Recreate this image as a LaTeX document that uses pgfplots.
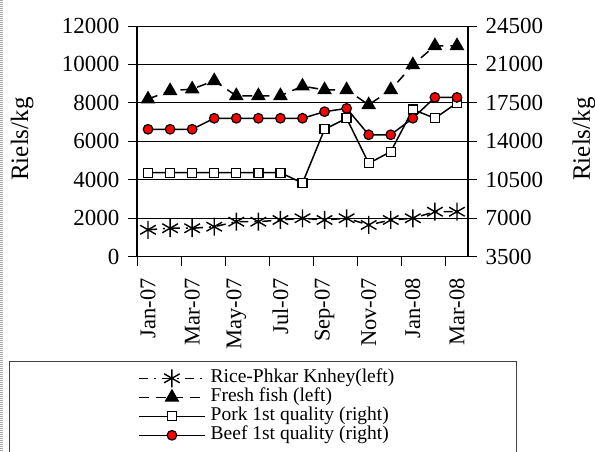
\documentclass[border=0pt]{standalone}
\usepackage{pgfplots}
\pgfplotsset{compat=1.18}
\usepackage{fontspec}
\setmainfont{Liberation Serif}
\pgfplotstableread{
m rice fish pork beef
0 1400 8200 11150 15100
1 1480 8630 11150 15100
2 1480 8720 11150 15100
3 1560 9150 11150 16100
4 1820 8370 11150 16100
5 1820 8370 11150 16100
6 1910 8370 11150 16100
7 2000 8870 10200 16100
8 1910 8680 15100 16700
9 2000 8680 16100 17000
10 1650 7900 12000 14600
11 1910 8680 13060 14600
12 2000 9980 16900 16100
13 2340 10970 16100 18000
14 2340 10970 17500 18000
}\data
\begin{document}
\begin{tikzpicture}[x=1pt,y=1pt]
\useasboundingbox (0,0) rectangle (595,451);
\draw[gray!70, line width=2.5pt, dash pattern=on 1pt off 1pt] (1.3,0) -- (1.3,451);
\draw[black!75, line width=1pt] (9,-2) -- (9,90) -- (516,90) -- (516,-2);
\pgfplotsset{
  common/.style={
    at={(137pt,194.3pt)}, anchor=south west,
    scale only axis, width=331pt, height=230.7pt,
    xmin=-0.5, xmax=14.5,
    tick align=outside, major tick length=9pt,
    /pgf/number format/assume math mode=true,
    ticklabel style={font=\fontsize{23}{27}\selectfont},
    xticklabel style={font=\fontsize{22.5}{27}\selectfont},
    label style={font=\fontsize{25}{29}\selectfont},
    tick style={black, line width=1pt},
    axis line style={line width=1.4pt},
    scaled y ticks=false,
    yticklabel style={/pgf/number format/.cd, fixed, set thousands separator={}},
    xticklabel shift=9pt, yticklabel shift=5pt,
    clip=false,
  },
  rice/.style={black, line width=1.5pt, dash pattern=on 9pt off 6pt on 2pt off 6pt, mark=asterisk, mark size=9pt, mark options={solid, line width=1.4pt}},
  fish/.style={black, line width=1.5pt, dash pattern=on 10pt off 7pt, mark=triangle*, mark size=7pt, mark options={solid, fill=black}},
  pork/.style={black, line width=1.5pt, mark=square*, mark size=4.5pt, mark options={solid, fill=white, line width=1.3pt}},
  beef/.style={black, line width=1.5pt, mark=*, mark size=4.8pt, mark options={solid, fill=red, line width=1.2pt}},
}
\begin{axis}[common,
  axis y line*=left, axis x line*=bottom,
  ymin=0, ymax=12000, ytick={0,2000,...,12000},
  ymajorgrids, grid style={black, line width=1pt},
  xtick={-0.5,1.5,...,13.5}, xticklabels={},
  extra x ticks={0,2,...,14},
  extra x tick labels={Jan-07,Mar-07,May-07,Jul-07,Sep-07,Nov-07,Jan-08,Mar-08},
  extra x tick style={major tick style={draw=none}, grid=none},
  xticklabel style={rotate=90, anchor=east},
  ylabel={Riels/kg},
  ylabel style={at={(axis description cs:-0.347,0.51)}, anchor=center},
]
\addplot[rice] table[x=m, y=rice] {\data};
\addplot[fish] table[x=m, y=fish] {\data};
\end{axis}
\begin{axis}[common,
  axis y line*=right, axis x line=none,
  ymin=3500, ymax=24500, ytick={3500,7000,...,24500},
  ylabel={Riels/kg},
  ylabel style={at={(axis description cs:1.350,0.51)}, anchor=center},
  legend image code/.code={\draw[mark repeat=2,mark phase=2,#1] plot coordinates {(0pt,0pt) (33pt,0pt) (66pt,0pt)};},
  legend style={draw=none, fill=none, at={(axis description cs:0.003,-0.485)}, anchor=north west, inner sep=0pt, row sep=0pt, font=\fontsize{19.5}{19.5}\selectfont, nodes={inner sep=0pt, text height=14pt, text depth=5pt}, column sep=5pt},
  legend cell align=left,
]
\addlegendimage{rice}
\addlegendentry{Rice-Phkar Knhey(left)}
\addlegendimage{fish}
\addlegendentry{Fresh fish (left)}
\addplot[pork] table[x=m, y=pork] {\data};
\addlegendentry{Pork 1st quality (right)}
\addplot[beef] table[x=m, y=beef] {\data};
\addlegendentry{Beef 1st quality (right)}
\end{axis}
\end{tikzpicture}
\end{document}
